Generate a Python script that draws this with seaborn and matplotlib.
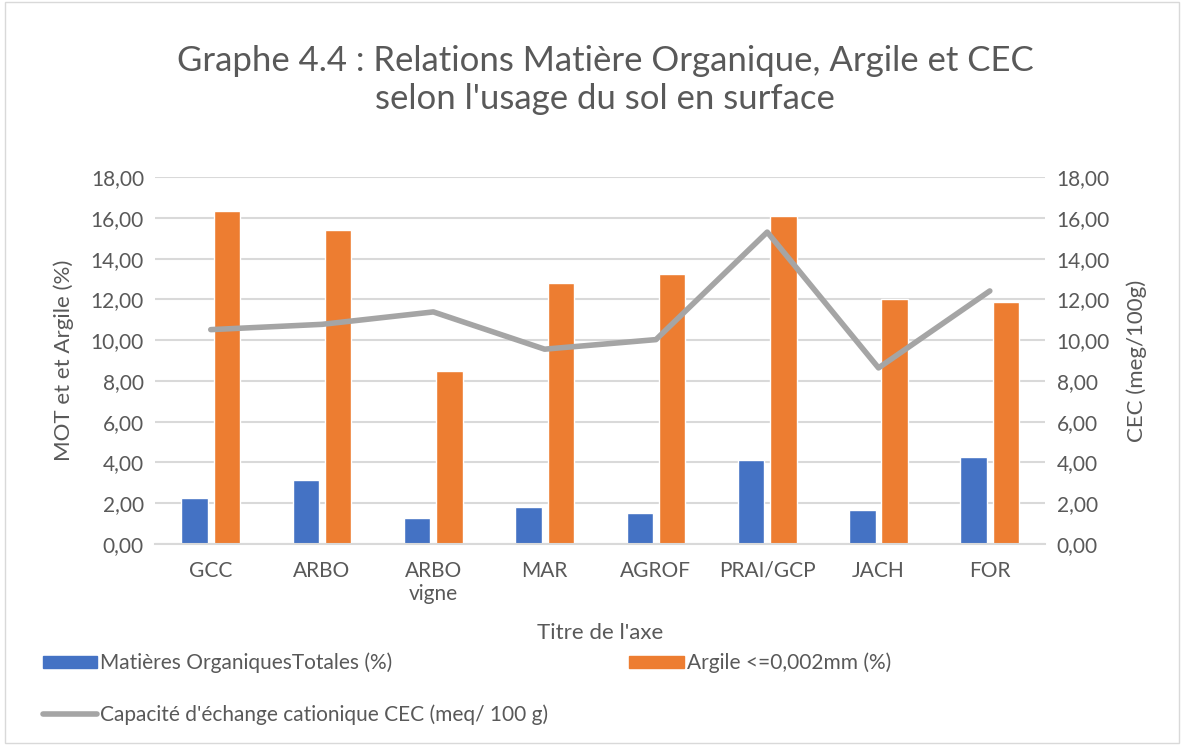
import numpy as np
import pandas as pd
import matplotlib
matplotlib.use("Agg")
import matplotlib.pyplot as plt
import seaborn as sns
from matplotlib.ticker import FuncFormatter
from matplotlib.patches import Rectangle

categories = ["GCC", "ARBO", "ARBO\nvigne", "MAR", "AGROF", "PRAI/GCP", "JACH", "FOR"]
mot = [2.24, 3.15, 1.29, 1.81, 1.52, 4.12, 1.68, 4.25]
argile = [16.36, 15.42, 8.51, 12.83, 13.24, 16.11, 12.00, 11.86]
cec = [10.52, 10.78, 11.39, 9.56, 10.03, 15.31, 8.64, 12.42]

lab_mot = "Matières OrganiquesTotales (%)"
lab_arg = "Argile <=0,002mm (%)"
lab_cec = "Capacité d'échange cationique CEC (meq/ 100 g)"

BLUE = "#4472C4"
ORANGE = "#ED7D31"
GREY = "#A5A5A5"
TXT = "#595959"

sns.set_theme(style="white")
plt.rcParams["font.family"] = ["Lato", "DejaVu Sans"]

df = pd.DataFrame({"cat": categories * 2,
                   "val": mot + argile,
                   "serie": [lab_mot] * len(mot) + [lab_arg] * len(argile)})

fig = plt.figure(figsize=(11.84, 7.45), dpi=100)
fig.patches.append(Rectangle((0.004, 0.003), 0.992, 0.994, transform=fig.transFigure,
                             fill=False, edgecolor="#D9D9D9", linewidth=1))
ax = fig.add_axes([0.131, 0.270, 0.752, 0.492])

sns.barplot(data=df, x="cat", y="val", hue="serie", order=categories,
            hue_order=[lab_mot, lab_arg], palette=[BLUE, ORANGE],
            width=0.58, gap=0.18, ax=ax, legend=False, saturation=1)

ax2 = ax.twinx()
ax2.plot(np.arange(len(categories)), cec, color=GREY, linewidth=4,
         solid_joinstyle="round", solid_capstyle="round", label=lab_cec)

fmt = FuncFormatter(lambda v, p: f"{v:.2f}".replace(".", ","))
for a in (ax, ax2):
    a.set_ylim(0, 18)
    a.set_yticks(np.arange(0, 19, 2))
    a.yaxis.set_major_formatter(fmt)
    a.tick_params(axis="y", length=0, labelsize=15, colors=TXT, pad=8)
    for s in a.spines.values():
        s.set_visible(False)
ax.set_xlim(-0.5, len(categories) - 0.5)
ax.grid(axis="y", color="#D9D9D9", linewidth=1.5)
ax.set_axisbelow(True)
ax.spines["bottom"].set_visible(True)
ax.spines["bottom"].set_color("#D9D9D9")
ax.spines["bottom"].set_linewidth(1.5)
ax.tick_params(axis="x", length=0, labelsize=15, colors=TXT, pad=12)

ax.set_xlabel("Titre de l'axe", fontsize=16, color=TXT, labelpad=14)
ax.set_ylabel("MOT et et Argile (%)", fontsize=16, color=TXT, labelpad=12)
ax2.set_ylabel("CEC (meg/100g)", fontsize=16, color=TXT, labelpad=12)

fig.suptitle("Graphe 4.4 : Relations Matière Organique, Argile et CEC\nselon l'usage du sol en surface",
             x=0.511, y=0.94, fontsize=25, color=TXT, linespacing=1.25)

handles = [Rectangle((0, 0), 1, 1, color=BLUE),
           plt.Line2D([0], [0], color=GREY, linewidth=4),
           Rectangle((0, 0), 1, 1, color=ORANGE)]
labels = [lab_mot, lab_cec, lab_arg]
fig.legend(handles, labels, loc="upper left", bbox_to_anchor=(0.029, 0.135),
           ncol=2, frameon=False, fontsize=15, labelcolor=TXT,
           handlelength=2.6, handleheight=0.55, handletextpad=0.15,
           labelspacing=1.5, columnspacing=3.9, borderaxespad=0)

fig.savefig("out.png", dpi=100)
